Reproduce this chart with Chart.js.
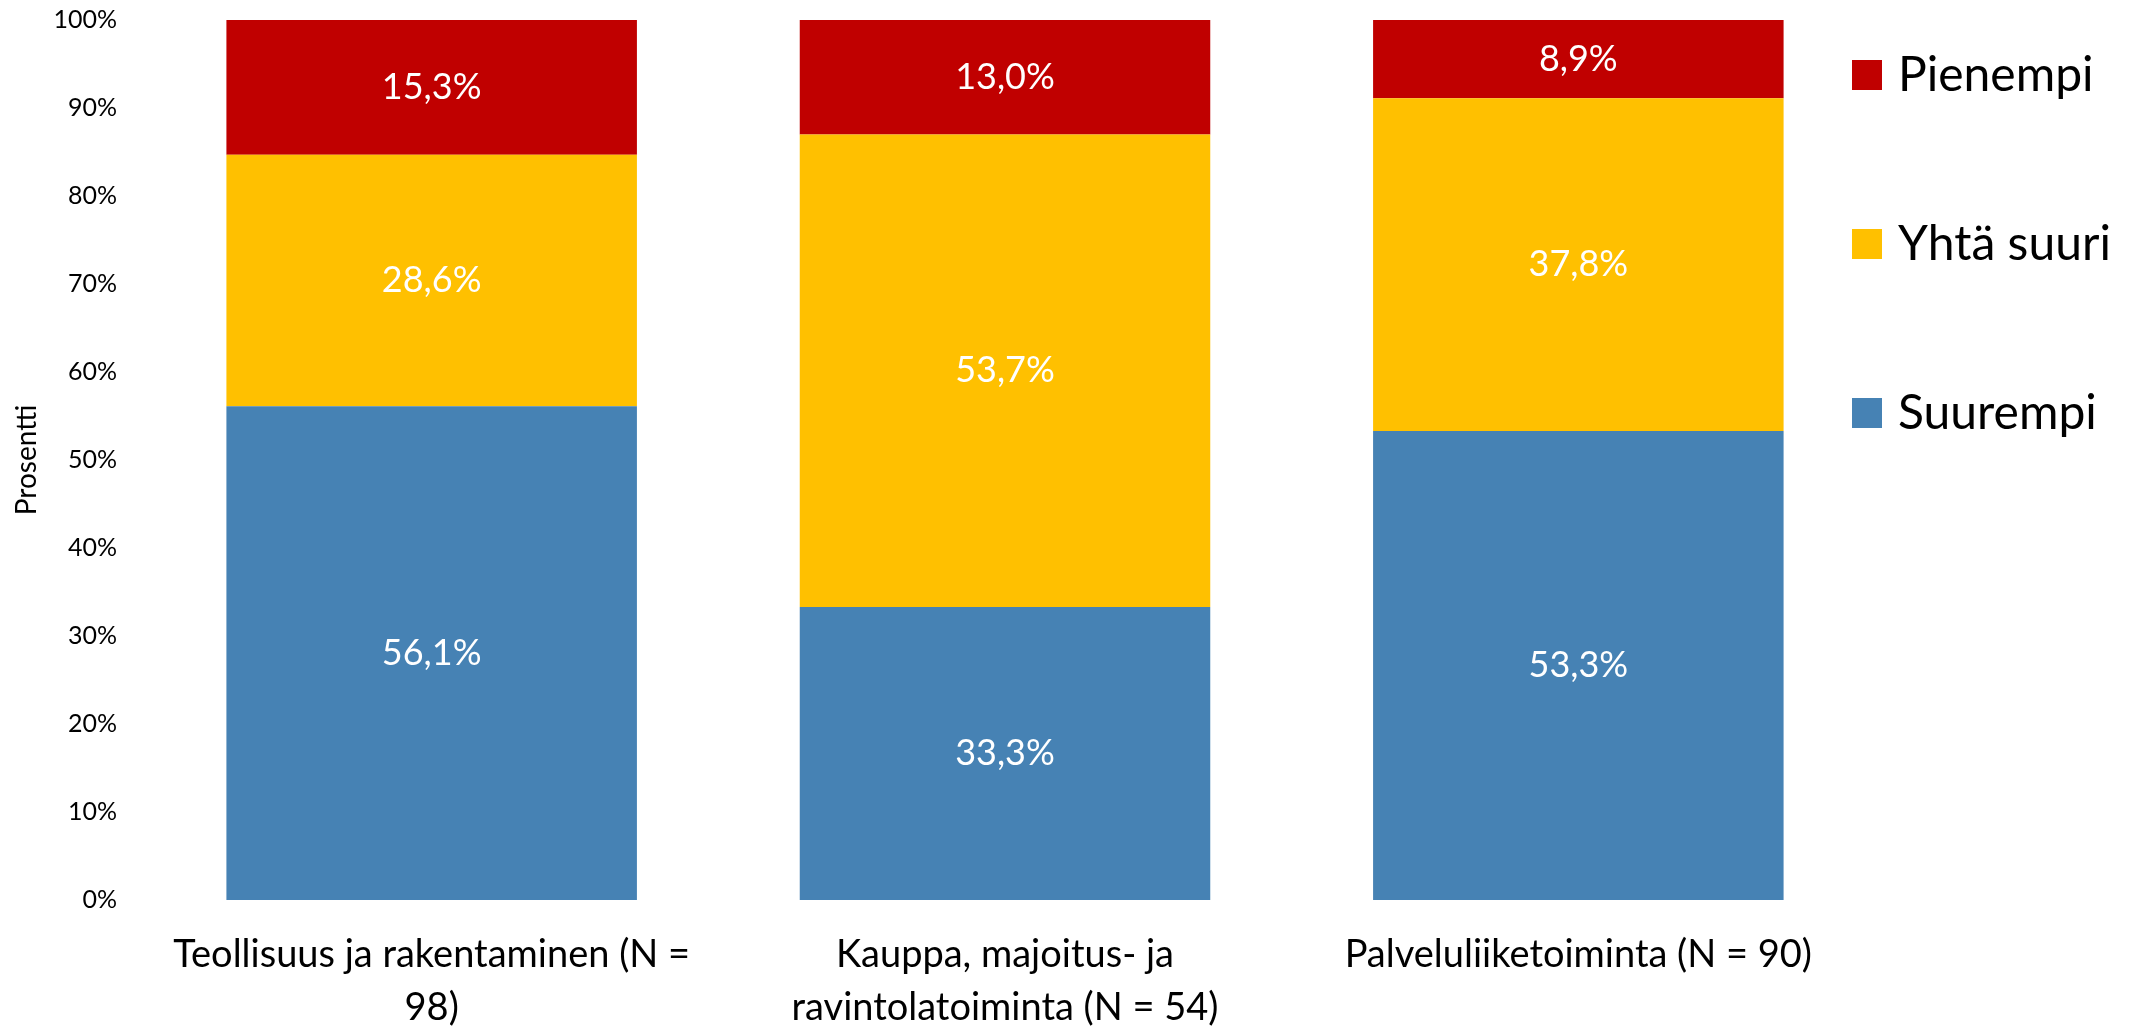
<!DOCTYPE html>
<html>
<head>
<meta charset="utf-8">
<script src="https://cdn.jsdelivr.net/npm/chart.js@4/dist/chart.umd.min.js"></script>
<style>
html,body{margin:0;padding:0;background:#fff;}
#wrap{width:2131px;height:1027px;position:relative;}
canvas{display:block;}
</style>
</head>
<body>
<div id="wrap"><canvas id="c" width="2131" height="1027"></canvas></div>
<script>
const categories = [
  ['Teollisuus ja rakentaminen (N =', '98)'],
  ['Kauppa, majoitus- ja', 'ravintolatoiminta (N = 54)'],
  ['Palveluliiketoiminta (N = 90)']
];
const seriesNames = ['Suurempi', 'Yhtä suuri', 'Pienempi'];
const suurempi = [56.1, 33.3, 53.3];
const yhtaSuuri = [28.6, 53.7, 37.8];
const pienempi = [15.3, 13.0, 8.9];
const seriesColors = ['#4682B4', '#FFC000', '#C00000'];
const yTicks = [0, 10, 20, 30, 40, 50, 60, 70, 80, 90, 100];

const FONT = 'Lato, "Open Sans", sans-serif';

const valueLabels = {
  id: 'valueLabels',
  afterDatasetsDraw(chart) {
    const ctx = chart.ctx;
    ctx.save();
    ctx.fillStyle = '#ffffff';
    ctx.font = '36px ' + FONT;
    ctx.textAlign = 'center';
    ctx.textBaseline = 'middle';
    chart.data.datasets.forEach((ds, i) => {
      const meta = chart.getDatasetMeta(i);
      meta.data.forEach((bar, j) => {
        const v = ds.data[j];
        const y = (bar.y + bar.base) / 2;
        ctx.fillText(v.toFixed(1).replace('.', ',') + '%', bar.x, y);
      });
    });
    ctx.restore();
  }
};

const sideLegend = {
  id: 'sideLegend',
  afterDraw(chart) {
    const ctx = chart.ctx;
    ctx.save();
    ctx.font = '48px ' + FONT;
    ctx.textAlign = 'left';
    ctx.textBaseline = 'middle';
    const ds = chart.data.datasets.slice().reverse();
    const x0 = chart.chartArea.right - 13;
    const ys = [75, 244, 413];
    ds.forEach((d, k) => {
      const yc = ys[k];
      ctx.fillStyle = d.backgroundColor;
      ctx.fillRect(x0, yc - 15, 30, 30);
      ctx.fillStyle = '#000000';
      ctx.fillText(d.label, x0 + 46, yc + 1);
    });
    ctx.restore();
  }
};

new Chart(document.getElementById('c'), {
  type: 'bar',
  data: {
    labels: categories,
    datasets: [
      { label: seriesNames[0], data: suurempi, backgroundColor: seriesColors[0] },
      { label: seriesNames[1], data: yhtaSuuri, backgroundColor: seriesColors[1] },
      { label: seriesNames[2], data: pienempi, backgroundColor: seriesColors[2] }
    ]
  },
  options: {
    responsive: false,
    animation: false,
    devicePixelRatio: 1,
    layout: { padding: { left: 6, right: 266, top: 20, bottom: 0 } },
    datasets: { bar: { barPercentage: 0.716, categoryPercentage: 1.0 } },
    plugins: { legend: { display: false }, tooltip: { enabled: false } },
    scales: {
      x: {
        stacked: true,
        grid: { display: false, drawTicks: false },
        border: { display: false },
        ticks: { color: '#000', font: { family: FONT, size: 38, lineHeight: 1.4 }, padding: 28, maxRotation: 0, autoSkip: false },
        afterFit(s) { s.height = 127; s.paddingTop = 0; s.paddingBottom = 0; }
      },
      y: {
        stacked: true,
        min: 0, max: 100,
        afterBuildTicks(s) { s.ticks = yTicks.map(v => ({ value: v })); },
        grid: { display: false, drawTicks: false },
        border: { display: false },
        ticks: { color: '#000', font: { family: FONT, size: 25 }, padding: 28, callback: v => v + '%' },
        title: { display: true, text: 'Prosentti', color: '#000', font: { family: FONT, size: 28 }, padding: 4 },
        afterFit(s) { s.width = 139; s.paddingTop = 0; s.paddingBottom = 0; }
      }
    }
  },
  plugins: [valueLabels, sideLegend]
});
</script>
</body>
</html>
